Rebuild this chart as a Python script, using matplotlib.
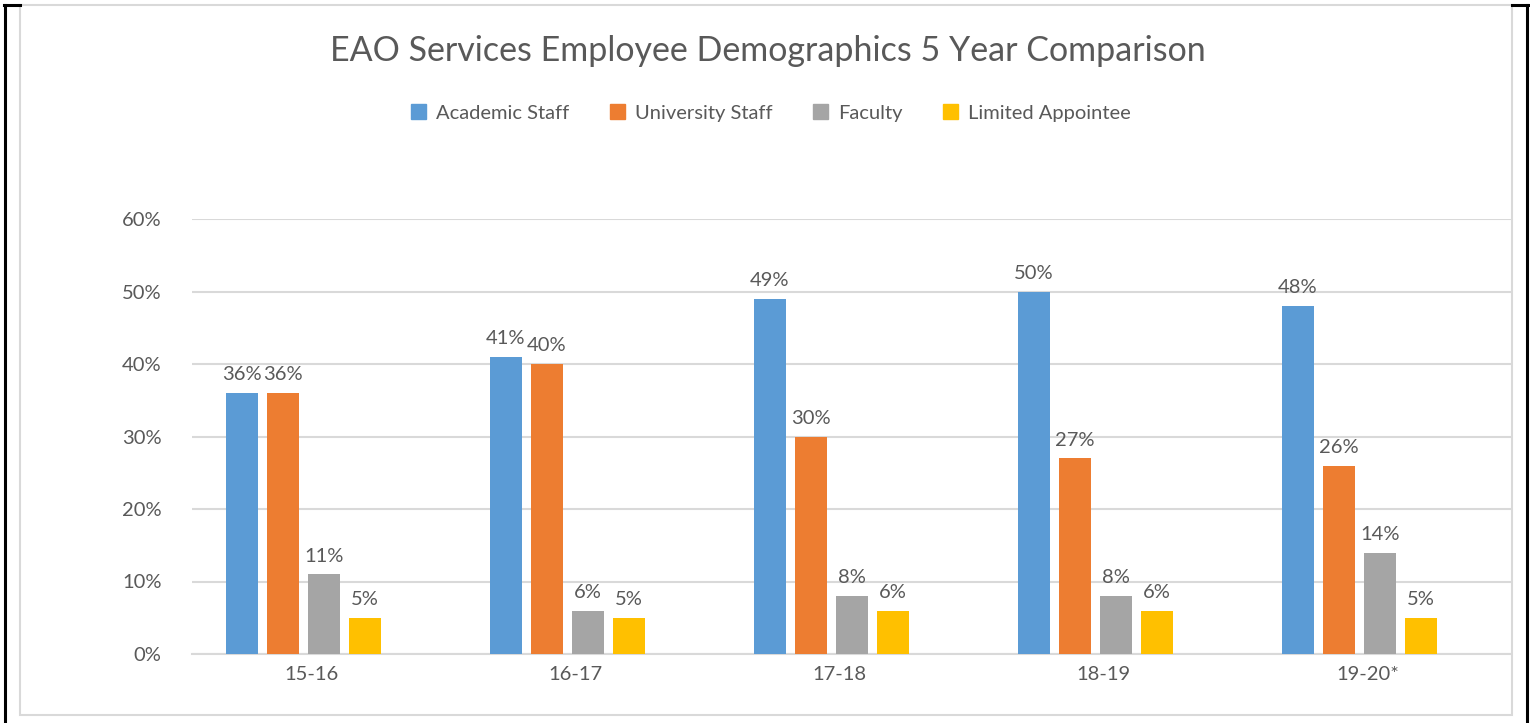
import numpy as np
import matplotlib
matplotlib.use('Agg')
import matplotlib.pyplot as plt
from matplotlib.lines import Line2D
from matplotlib.patches import Rectangle, Patch

plt.rcParams['font.family'] = ['Lato', 'DejaVu Sans']

# data
years = ['15-16', '16-17', '17-18', '18-19', '19-20*']
series_names = ['Academic Staff', 'University Staff', 'Faculty', 'Limited Appointee']
academic = [36, 41, 49, 50, 48]
university = [36, 40, 30, 27, 26]
faculty = [11, 6, 8, 8, 14]
limited = [5, 5, 6, 6, 5]
colors = ['#5B9BD5', '#ED7D31', '#A5A5A5', '#FFC000']

W, H = 1530, 723
fig = plt.figure(figsize=(W / 100, H / 100), dpi=100)
txt = '#595959'
grid_c = '#D9D9D9'

# chart border + black edges of the screenshot
fig.add_artist(Rectangle((20 / W, 1 - 715 / H), (1512 - 20) / W, (715 - 5) / H,
                         transform=fig.transFigure, fill=False, ec=grid_c, lw=1.5))
fig.add_artist(Line2D([5.3 / W, 5.3 / W], [0, 1 - 5 / H], color='black', lw=2.2))
fig.add_artist(Line2D([4 / W, 20 / W], [1 - 5 / H, 1 - 5 / H], color='black', lw=2.2))
fig.add_artist(Line2D([1527 / W, 1527 / W], [0, 1 - 5 / H], color='black', lw=2.2))
fig.add_artist(Line2D([1512 / W, 1528 / W], [1 - 5 / H, 1 - 5 / H], color='black', lw=2.2))

ax = fig.add_axes([192 / W, 1 - 654 / H, (1511 - 192) / W, (654 - 219) / H])

x = np.arange(len(years))
step = 41 / 264
bw = 32 / 264
all_vals = [academic, university, faculty, limited]
for i, (vals, c, name) in enumerate(zip(all_vals, colors, series_names)):
    pos = x + (i - 1.5) * step
    ax.bar(pos, np.array(vals) / 100, width=bw, color=c, zorder=3, label=name)
    for xp, v in zip(pos, vals):
        ax.annotate('%d%%' % v, (xp, v / 100), xytext=(0, 7), textcoords='offset points',
                    ha='center', va='bottom', fontsize=14.5, color=txt)

ax.set_ylim(0, 0.6)
ax.set_xlim(-0.422, 4.574)
ax.set_yticks(np.arange(0, 0.61, 0.1))
ax.set_yticklabels(['%d%%' % v for v in range(0, 61, 10)])
ax.set_xticks(x + 0.03)
ax.set_xticklabels(years)
ax.tick_params(axis='both', length=0, labelsize=14.5, colors=txt)
ax.tick_params(axis='y', pad=22)
ax.tick_params(axis='x', pad=9)
ax.grid(axis='y', color=grid_c, lw=1.5, zorder=0)
for s in ['top', 'right', 'left']:
    ax.spines[s].set_visible(False)
ax.spines['bottom'].set_color(grid_c)
ax.spines['bottom'].set_linewidth(1.5)

fig.text(0.502, 1 - 51 / H, 'EAO Services Employee Demographics 5 Year Comparison',
         ha='center', va='center', fontsize=24.5, color=txt)

handles = [Patch(color=c) for c in colors]
fig.legend(handles, series_names, loc='center', bbox_to_anchor=(0.504, 1 - 113 / H),
           ncol=4, frameon=False, fontsize=14.5, labelcolor=txt,
           handlelength=0.75, handleheight=0.75, handletextpad=0.5, columnspacing=2.0)

fig.savefig('out.png', dpi=100)
